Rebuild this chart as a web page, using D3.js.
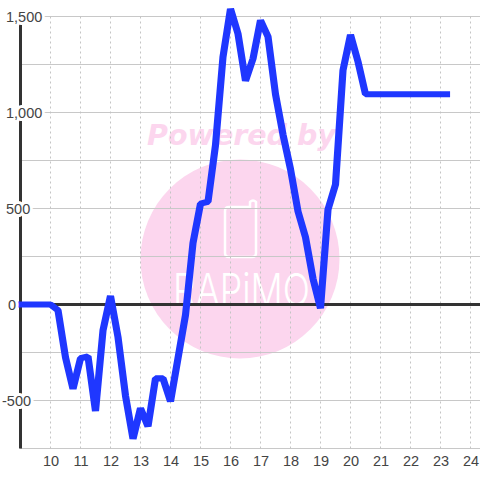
<!DOCTYPE html>
<html><head><meta charset="utf-8">
<script src="https://cdn.jsdelivr.net/npm/d3@7"></script>
<style>html,body{margin:0;padding:0;background:#fff}svg{display:block}</style>
</head><body><svg id="c" width="480" height="480"></svg>
<script>
const hours = [9,9.25,9.5,9.75,10,10.25,10.5,10.75,11,11.25,11.5,11.75,12,12.25,12.5,12.75,13,13.25,13.5,13.75,14,14.25,14.5,14.75,15,15.25,15.5,15.75,16,16.25,16.5,16.75,17,17.25,17.5,17.75,18,18.25,18.5,18.75,19,19.25,19.5,19.75,20,20.25,20.5,20.75,21,21.25,21.5,21.75,22,22.25,22.5,22.75,23,23.2];
const values = [0,0,0,0,0,-30,-275,-440,-280,-270,-555,-135,45,-170,-475,-700,-540,-635,-385,-385,-505,-280,-55,320,525,535,830,1290,1540,1410,1165,1280,1480,1395,1095,885,705,485,350,135,-20,495,625,1220,1405,1265,1095,1095,1095,1095,1095,1095,1095,1095,1095,1095,1095,1095];
const xTicks = [10,11,12,13,14,15,16,17,18,19,20,21,22,23,24];
const yGrid = [-750,-500,-250,0,250,500,750,1000,1250,1500];
const yLabels = [-500,0,500,1000,1500];
const watermarkTop = "Powered by";
const watermarkLogo = "RAPiMO";

const svg = d3.select("#c");
const x = d3.scaleLinear().domain([9,24.3333]).range([20.5,480.5]);
const y = d3.scaleLinear().domain([-750,1500]).range([448.5,16.5]);

// watermark
const wm = svg.append("g");
wm.append("circle").attr("cx",240).attr("cy",259).attr("r",99.5).attr("fill","#fcd6ee");
wm.append("text").text(watermarkTop).attr("x",241.5).attr("y",145).attr("text-anchor","middle")
  .attr("font-family","DejaVu Sans").attr("font-weight","bold").attr("font-style","italic")
  .attr("font-size",28.5).attr("fill","#fcd6ee");
wm.append("path").attr("d","M229 207 H250 V202 Q253 199 256 202 V253 Q256 257 252 257 H229 Q225 257 225 253 V211 Q225 207 229 207 Z")
  .attr("fill","none").attr("stroke","#fff").attr("stroke-width",2.5);
wm.append("text").text(watermarkLogo).attr("x",173).attr("y",306)
  .attr("font-family","Inter").attr("font-weight",300).attr("font-size",45)
  .attr("textLength",137).attr("lengthAdjust","spacingAndGlyphs").attr("fill","#fff");

// grid
svg.append("g").selectAll("line").data(yGrid).join("line")
  .attr("x1",20).attr("x2",480).attr("y1",d=>y(d)).attr("y2",d=>y(d))
  .attr("stroke","#c8c8c8").attr("stroke-width",1);
svg.append("g").selectAll("line").data(xTicks).join("line")
  .attr("x1",d=>x(d)).attr("x2",d=>x(d)).attr("y1",y(1500)).attr("y2",y(-750))
  .attr("stroke","#c4c4c4").attr("stroke-width",1).attr("stroke-dasharray","2,3");

// axis lines
svg.append("line").attr("x1",20).attr("x2",480).attr("y1",y(0)).attr("y2",y(0))
  .attr("stroke","#333").attr("stroke-width",3);
svg.append("line").attr("x1",20.5).attr("x2",20.5).attr("y1",y(1500)).attr("y2",y(-750))
  .attr("stroke","#333").attr("stroke-width",3);

// series: drawn in a horizontally stretched space, so steep runs come out wider than flat ones
const stretch = 1.17;
const line = d3.line().x((d,i)=>x(hours[i])/stretch).y(d=>y(d));
svg.append("g").attr("transform",`scale(${stretch},1)`)
  .append("path").datum(values).attr("d",line).attr("fill","none")
  .attr("stroke","#1f37ff").attr("stroke-width",6.1).attr("stroke-linejoin","bevel").attr("stroke-linecap","square");

// axes
const bottom = svg.append("g").attr("transform",`translate(0,${y(-750)})`)
  .call(d3.axisBottom(x).tickValues(xTicks).tickSize(0).tickPadding(6).tickFormat(d3.format("d")));
bottom.select(".domain").remove();
bottom.selectAll("text").attr("font-family","Liberation Sans").attr("font-size",14.5).attr("fill","#444").attr("y",7);

const left = svg.append("g")
  .call(d3.axisLeft(y).tickValues(yLabels).tickSize(0).tickFormat(d=>d3.format(",")(d).replace("\u2212","-")));
left.select(".domain").remove();
left.selectAll("text").attr("font-family","Liberation Sans").attr("font-size",14.5).attr("fill","#444")
  .attr("text-anchor","start").attr("x",d=>d<0?2:d===0?8:6)
  .attr("stroke","#fff").attr("stroke-width",6).attr("paint-order","stroke").attr("stroke-linejoin","round");
</script></body></html>
